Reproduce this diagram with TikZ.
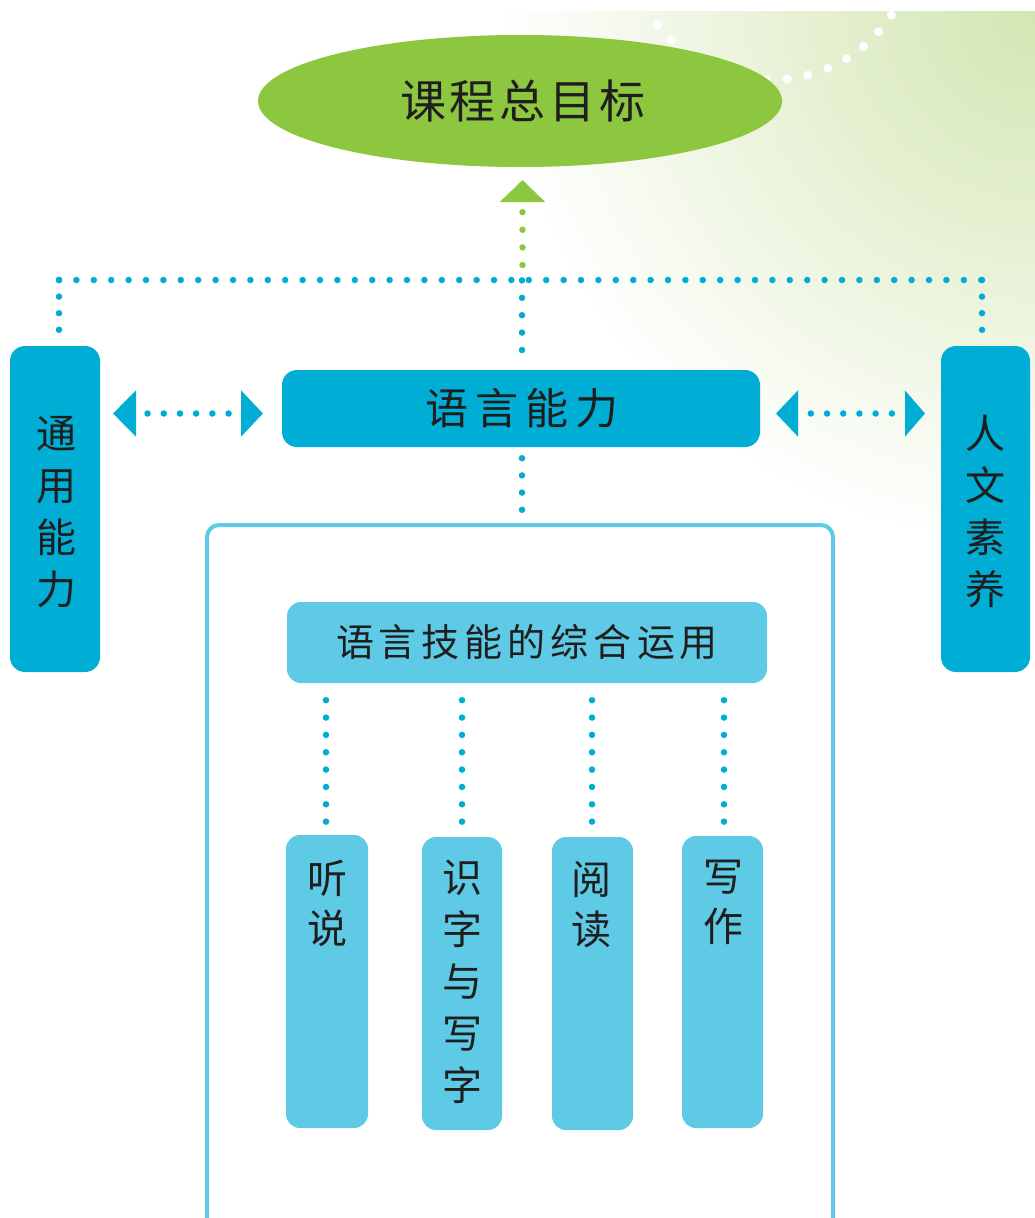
\documentclass[tikz,border=0pt]{standalone}
\usepackage{fontspec}
\newfontfamily\cjk{Noto Sans CJK SC}
\usetikzlibrary{arrows.meta,shapes.geometric}
\definecolor{leaf}{HTML}{8DC63F}
\definecolor{deepblue}{HTML}{00ADD4}
\definecolor{paleblue}{HTML}{5ECAE5}
\definecolor{inkc}{HTML}{1E1E1E}
\definecolor{bgreen}{HTML}{D3E6B2}
\begin{document}
\begin{tikzpicture}[x=1pt,y=-1pt,
  darkbox/.style={rectangle, rounded corners=15pt, fill=deepblue, inner sep=0pt},
  lightbox/.style={rectangle, rounded corners=14pt, fill=paleblue, inner sep=0pt},
  coltext/.style={text=inkc, align=center, inner sep=0pt, font=\cjk\fontsize{40}{#1}\selectfont},
  coltext/.default=52pt,
  bdots/.style={draw=deepblue, line width=6.5pt, line cap=round, dash pattern=on 0pt off #1},
  bdots/.default=17.4pt,
  gdots/.style={draw=leaf, line width=6.5pt, line cap=round, dash pattern=on 0pt off #1},
  gdots/.default=17.5pt
]
\useasboundingbox (0,0) rectangle (1035,1218);
\clip (0,0) rectangle (1035,1218);

% background gradient and white dotted arc
\begin{scope}
  \clip (0,11) rectangle (1035,1218);
  \shade[inner color=bgreen, outer color=white] (1035,11) circle (540);
  \draw[white, line width=9pt, line cap=round, dash pattern=on 0pt off 21pt]
    (771,-64) ++(25:144) arc[start angle=25, end angle=155, radius=144];
\end{scope}

% goal ellipse
\node[ellipse, fill=leaf, minimum width=524pt, minimum height=132pt, inner sep=0pt,
      text=inkc, font=\cjk\fontsize{46}{46}\selectfont] (goal) at (520,101)
  {\hspace{6pt}课\kern4pt 程\kern4pt 总\kern4pt 目\kern4pt 标};

% side boxes
\node[darkbox, minimum width=90pt, minimum height=326pt] (tongyong) at (55,509) {};
\node[coltext] (tongyongtxt) at (56,512) {通\\用\\能\\力};
\node[darkbox, minimum width=89pt, minimum height=326pt] (renwen) at (985.5,509) {};
\node[coltext] (renwentxt) at (985,511) {人\\文\\素\\养};

% language ability
\node[darkbox, minimum width=478pt, minimum height=77pt, text=inkc,
      font=\cjk\fontsize{43}{43}\selectfont] (yuyan) at (521,408.5)
  {\hspace{2pt}语\kern7pt 言\kern7pt 能\kern7pt 力};

% frame
\node[draw=paleblue, line width=4pt, rounded corners=12pt, minimum width=626pt,
      minimum height=760pt, inner sep=0pt] (frame) at (520,905) {};

% skills box
\node[lightbox, minimum width=480pt, minimum height=81pt, text=inkc,
      font=\cjk\fontsize{38}{38}\selectfont] (skill) at (527,642.5)
  {语\kern5pt 言\kern5pt 技\kern5pt 能\kern5pt 的\kern5pt 综\kern5pt 合\kern5pt 运\kern5pt 用};

% four skill columns
\node[lightbox, minimum width=82pt, minimum height=293pt] (ting) at (327,981.5) {};
\node[lightbox, minimum width=80pt, minimum height=293pt] (shizi) at (462,983.5) {};
\node[lightbox, minimum width=81pt, minimum height=293pt] (yuedu) at (592.5,983.5) {};
\node[lightbox, minimum width=81pt, minimum height=292pt] (xiezuo) at (722.5,982) {};
\node[coltext=50pt] (tingtxt) at (327,903) {听\\说};
\node[coltext=52pt] (shizitxt) at (462,981.5) {识\\字\\与\\写\\字};
\node[coltext=50pt] (yuedutxt) at (591,905) {阅\\读};
\node[coltext=50pt] (xiezuotxt) at (723,902.5) {写\\作};

% dotted connectors
\coordinate (hl) at (59,280);
\coordinate (hr) at (982,280);
\coordinate (hm) at (522,280);
\coordinate (tl) at (59,330);
\coordinate (tr) at (982,330);
\coordinate (ym) at (522,350);
\draw[bdots=16.6pt] (hl) -- (tl);
\draw[bdots=16.6pt] (hr) -- (tr);
\draw[bdots=17.4pt] (hl) -- (hr);
\draw[bdots=17.4pt] (ym) -- (hm);

\coordinate (gs) at (522.5,265);
\coordinate (ga) at (522.5,180);
\draw[gdots=17.6pt, -{Triangle[width=44pt,length=22pt]}] (gs) -- (ga);

\draw[bdots=17.2pt] ([yshift=-11pt]yuyan.south -| 522,0) -- ([yshift=13pt]frame.north -| 522,0);

\foreach \n/\x in {ting/326, shizi/462, yuedu/592, xiezuo/724}{
  \draw[bdots=17.35pt] ([yshift=-17pt]skill.south -| \x,0) -- ([yshift=13pt]\n.north -| \x,0);
}

% side arrows
\coordinate (al1) at (113,413.5);
\coordinate (al2) at (263,413.5);
\coordinate (ar1) at (776,413.5);
\coordinate (ar2) at (925,413.5);
\draw[bdots=16.2pt, dash phase=3.2pt,
      {Triangle[width=45pt,length=23pt]}-{Triangle[width=45pt,length=22pt]}] (al1) -- (al2);
\draw[bdots=16.2pt, dash phase=2pt,
      {Triangle[width=45pt,length=22pt]}-{Triangle[width=45pt,length=20pt]}] (ar1) -- (ar2);
\end{tikzpicture}
\end{document}
